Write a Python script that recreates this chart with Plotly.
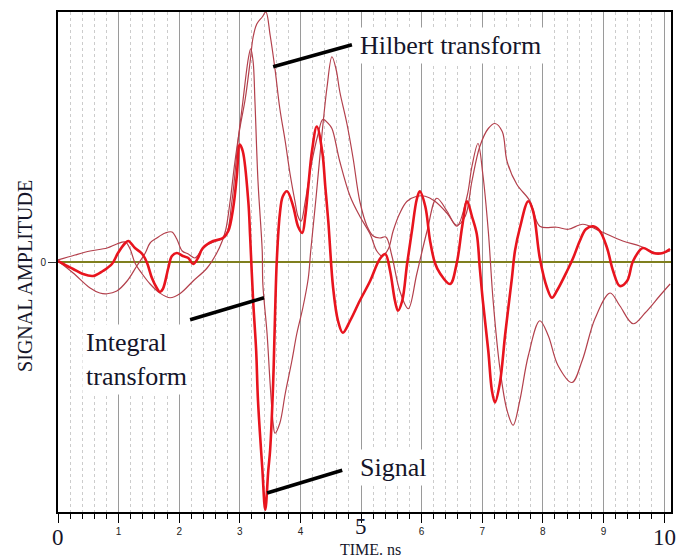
import plotly.graph_objects as go

# ---- data (time in ns, amplitude in relative units) ----
signal_t = [0.00, 0.15, 0.25, 0.41, 0.58, 0.74, 0.89, 0.99, 1.11, 1.16, 1.27, 1.39, 1.47, 1.55, 1.63, 1.68, 1.73, 1.82,
            1.88, 1.96, 2.06, 2.15, 2.23, 2.31, 2.39, 2.56, 2.72, 2.81, 2.89, 2.95, 3.00, 3.05, 3.14, 3.17, 3.22, 3.27,
            3.30, 3.37, 3.42, 3.47, 3.50, 3.55, 3.58, 3.61, 3.66, 3.71, 3.78, 3.88, 3.96, 4.03, 4.08, 4.13, 4.19, 4.27,
            4.36, 4.41, 4.46, 4.54, 4.62, 4.70, 4.82, 4.98, 5.15, 5.31, 5.40, 5.48, 5.56, 5.61, 5.68, 5.76, 5.84, 5.92,
            5.97, 6.06, 6.14, 6.22, 6.30, 6.47, 6.58, 6.67, 6.75, 6.83, 6.91, 6.96, 7.01, 7.10, 7.16, 7.21, 7.29, 7.38,
            7.49, 7.54, 7.62, 7.76, 7.84, 7.95, 8.07, 8.15, 8.23, 8.40, 8.50, 8.61, 8.71, 8.83, 8.94, 9.06, 9.16, 9.27,
            9.39, 9.49, 9.65, 9.82, 9.98, 10.10]
signal_v = [0.004, -0.016, -0.028, -0.048, -0.056, -0.036, -0.008, 0.036, 0.076, 0.084, 0.056, 0.032, -0.004, -0.064,
            -0.104, -0.120, -0.108, -0.024, 0.024, 0.036, 0.024, 0.016, -0.008, 0.016, 0.056, 0.084, 0.096, 0.124, 0.215,
            0.343, 0.470, 0.442, 0.243, 0.104, -0.155, -0.355, -0.554, -0.821, -0.992, -0.833, -0.753, -0.486, -0.223,
            0.004, 0.191, 0.263, 0.283, 0.223, 0.143, 0.116, 0.183, 0.303, 0.442, 0.542, 0.442, 0.303, 0.163, -0.104,
            -0.235, -0.283, -0.235, -0.155, -0.076, 0.012, 0.032, -0.036, -0.155, -0.195, -0.155, -0.008, 0.124, 0.251,
            0.283, 0.223, 0.084, -0.004, -0.044, -0.088, -0.004, 0.143, 0.243, 0.183, 0.112, -0.024, -0.155, -0.355,
            -0.514, -0.562, -0.486, -0.287, -0.064, 0.044, 0.135, 0.243, 0.203, 0.016, -0.104, -0.143, -0.116, -0.036,
            0.016, 0.084, 0.131, 0.143, 0.124, 0.056, -0.036, -0.096, -0.076, 0.004, 0.056, 0.036, 0.036, 0.052]

integral_t = [0.00, 0.25, 0.53, 0.69, 0.81, 0.97, 1.14, 1.30, 1.44, 1.52, 1.63, 1.77, 1.88, 1.96, 2.05, 2.15, 2.26,
              2.36, 2.48, 2.62, 2.76, 2.87, 2.97, 3.05, 3.14, 3.18, 3.22, 3.25, 3.30, 3.37, 3.38, 3.45, 3.50, 3.55,
              3.58, 3.66, 3.75, 3.86, 3.94, 4.04, 4.13, 4.17, 4.26, 4.36, 4.44, 4.52, 4.59, 4.65, 4.77, 4.87, 4.98,
              5.10, 5.20, 5.31, 5.41, 5.51, 5.64, 5.78, 5.92, 6.09, 6.25, 6.42, 6.58, 6.75, 6.83, 6.93, 7.01, 7.10,
              7.18, 7.29, 7.41, 7.51, 7.62, 7.76, 7.95, 8.09, 8.25, 8.48, 8.65, 8.86, 9.11, 9.27, 9.49, 9.69, 9.93,
              10.10]
integral_v = [0.004, -0.044, -0.104, -0.124, -0.127, -0.116, -0.076, -0.016, 0.036, 0.076, 0.096, 0.116, 0.120,
              0.092, 0.044, 0.032, 0.016, 0.044, 0.072, 0.084, 0.100, 0.243, 0.482, 0.641, 0.813, 0.853, 0.801,
              0.641, 0.323, 0.044, -0.088, -0.287, -0.486, -0.645, -0.685, -0.645, -0.526, -0.394, -0.287, -0.183,
              -0.064, 0.044, 0.263, 0.522, 0.701, 0.821, 0.769, 0.681, 0.550, 0.414, 0.243, 0.143, 0.104, 0.096,
              0.100, 0.024, -0.116, -0.187, -0.048, 0.124, 0.255, 0.203, 0.143, 0.263, 0.382, 0.474, 0.351, 0.124,
              -0.155, -0.422, -0.594, -0.653, -0.554, -0.375, -0.235, -0.295, -0.414, -0.482, -0.394, -0.227,
              -0.124, -0.175, -0.247, -0.203, -0.135, -0.088]

hilbert_t = [0.00, 0.28, 0.53, 0.81, 0.97, 1.11, 1.19, 1.27, 1.39, 1.52, 1.68, 1.85, 2.01, 2.23, 2.46, 2.62, 2.71,
             2.77, 2.84, 2.92, 3.00, 3.09, 3.17, 3.22, 3.28, 3.37, 3.43, 3.50, 3.58, 3.66, 3.75, 3.83, 3.91, 3.96,
             4.01, 4.08, 4.19, 4.29, 4.37, 4.46, 4.52, 4.65, 4.82, 4.98, 5.15, 5.26, 5.35, 5.45, 5.53, 5.64, 5.76,
             5.92, 6.06, 6.22, 6.42, 6.58, 6.72, 6.83, 6.96, 7.10, 7.21, 7.33, 7.41, 7.57, 7.79, 7.95, 8.23, 8.42,
             8.66, 8.94, 9.32, 9.60, 9.88, 10.10]
hilbert_v = [0.008, 0.028, 0.044, 0.056, 0.072, 0.080, 0.052, -0.004, -0.048, -0.088, -0.124, -0.143, -0.127,
             -0.076, -0.024, 0.036, 0.084, 0.131, 0.243, 0.402, 0.534, 0.653, 0.801, 0.900, 0.952, 0.980, 1.000,
             0.908, 0.773, 0.614, 0.482, 0.351, 0.243, 0.183, 0.163, 0.243, 0.402, 0.510, 0.570, 0.554, 0.534,
             0.402, 0.263, 0.183, 0.112, 0.044, 0.024, 0.052, 0.124, 0.195, 0.243, 0.263, 0.263, 0.243, 0.195,
             0.147, 0.183, 0.323, 0.462, 0.534, 0.554, 0.522, 0.402, 0.311, 0.243, 0.143, 0.139, 0.131, 0.151,
             0.124, 0.084, 0.064, 0.036, 0.044]

major_ticks = [0, 1, 2, 3, 4, 5, 6, 7, 8, 9, 10]
major_labels = ["", "1", "2", "3", "4", "", "6", "7", "8", "9", ""]
big_labels = ["0", "5", "10"]
big_label_pos = [0, 5, 10]
big_label_y = [-0.080, -0.058, -0.080]

# label callouts: (text, text x, text y, line start, line end)
callouts = [
    ("Hilbert transform", 4.92, 0.865, (3.55, 0.781), (4.85, 0.869)),
    ("Integral<br>transform", 0.40, -0.39, (2.18, -0.231), (3.40, -0.143)),
    ("Signal", 4.92, -0.821, (3.45, -0.924), (4.69, -0.833)),
]

SERIF = "Liberation Serif, Times New Roman, serif"
SANS = "Liberation Sans, Arial, sans-serif"
thin_color = "#b3404c"

fig = go.Figure()
fig.add_trace(go.Scatter(x=hilbert_t, y=hilbert_v, mode="lines", line=dict(color=thin_color, width=1.2),
                         line_shape="spline", showlegend=False))
fig.add_trace(go.Scatter(x=integral_t, y=integral_v, mode="lines", line=dict(color=thin_color, width=1.2),
                         line_shape="spline", showlegend=False))
fig.add_trace(go.Scatter(x=signal_t, y=signal_v, mode="lines", line=dict(color="#e8141e", width=2.6),
                         line_shape="spline", showlegend=False))

for text, tx, ty, p0, p1 in callouts:
    fig.add_shape(type="line", xref="x", yref="y", x0=p0[0], y0=p0[1], x1=p1[0], y1=p1[1],
                  line=dict(color="black", width=3.5))
    fig.add_annotation(x=tx, y=ty, xref="x", yref="y", text=text, showarrow=False, xanchor="left",
                       yanchor="middle", align="left", bgcolor="white", borderpad=3,
                       font=dict(family=SERIF, size=26, color="#15152a"))

for lab, pos, ly in zip(big_labels, big_label_pos, big_label_y):
    fig.add_annotation(x=pos, y=ly, xref="x", yref="paper", text=lab, showarrow=False,
                       xanchor="center", yanchor="bottom", font=dict(family=SERIF, size=23, color="#15152a"))

fig.add_annotation(x=5.15, y=-0.0956, xref="x", yref="paper", text="TIME. ns", showarrow=False,
                   xanchor="center", yanchor="bottom", font=dict(family=SERIF, size=16, color="#15152a"))
fig.add_annotation(x=-0.054, y=0.472, xref="paper", yref="paper", text="SIGNAL AMPLITUDE", showarrow=False,
                   textangle=-90, xanchor="center", yanchor="middle",
                   font=dict(family=SERIF, size=20, color="#15152a"))

fig.update_layout(
    width=683, height=560,
    margin=dict(l=58, r=12, t=10, b=48),
    paper_bgcolor="white", plot_bgcolor="white",
    xaxis=dict(range=[0, 10.115], tickmode="array", tickvals=major_ticks, ticktext=major_labels,
               ticks="outside", ticklen=9, tickwidth=1, tickcolor="black",
               tickfont=dict(family=SANS, size=10, color="#222"),
               showgrid=True, gridcolor="#9a9a9a", gridwidth=1,
               showline=True, linecolor="black", linewidth=2, mirror=True, zeroline=False,
               minor=dict(tick0=0, dtick=0.2, ticks="outside", ticklen=5, tickcolor="black",
                          showgrid=True, gridcolor="#cccccc", griddash="dot", gridwidth=1)),
    yaxis=dict(range=[-1, 1], tickmode="array", tickvals=[0], ticktext=["0"],
               ticks="outside", ticklen=8, tickcolor="#333",
               tickfont=dict(family=SANS, size=10, color="#222"),
               showgrid=False, zeroline=True, zerolinecolor="#7f7f1e", zerolinewidth=2,
               showline=True, linecolor="black", linewidth=2, mirror=True),
)

fig.write_html("out.html")
